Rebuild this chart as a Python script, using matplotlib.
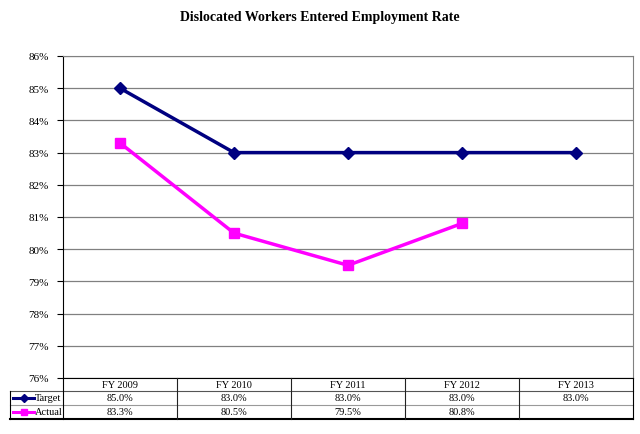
import matplotlib
matplotlib.use("Agg")
import matplotlib.pyplot as plt
from matplotlib.lines import Line2D

categories = ["FY 2009", "FY 2010", "FY 2011", "FY 2012", "FY 2013"]
target = [85.0, 83.0, 83.0, 83.0, 83.0]
actual = [83.3, 80.5, 79.5, 80.8, None]
yticks = [76, 77, 78, 79, 80, 81, 82, 83, 84, 85, 86]

plt.rcParams['font.family'] = ['Liberation Serif', 'DejaVu Serif']

W, H = 640, 435
fig = plt.figure(figsize=(W / 100, H / 100), dpi=100)
fig.patch.set_facecolor('white')

L, R, T, B = 63, 633, 57, 379
ax = fig.add_axes([L / W, 1 - B / H, (R - L) / W, (B - T) / H])

x = list(range(len(categories)))
ax.plot(x, target, color='#000080', lw=2.5, marker='D', ms=6, zorder=3)
ax_x = [i for i, v in enumerate(actual) if v is not None]
ax_y = [v for v in actual if v is not None]
ax.plot(ax_x, ax_y, color='#FF00FF', lw=2.5, marker='s', ms=7, zorder=3)

ax.set_xlim(-0.5, len(categories) - 0.5)
ax.set_ylim(76, 86)
ax.set_yticks(yticks)
ax.set_yticklabels([f"{v}%" for v in yticks], fontsize=8)
ax.set_xticks([])
ax.grid(axis='y', color='#808080', lw=0.9)
ax.set_axisbelow(True)
for s in ['top', 'right']:
    ax.spines[s].set_color('#808080')
ax.spines['left'].set_color('black')
ax.spines['bottom'].set_color('black')
ax.tick_params(axis='y', length=4, width=0.8, pad=6)

fig.text(0.5, 1 - 17 / H, "Dislocated Workers Entered Employment Rate",
         ha='center', va='center', fontsize=10, fontweight='bold')

def P(px, py):
    return (px / W, 1 - py / H)

def hline(x0, x1, y, lw=0.8, c='black'):
    fig.add_artist(Line2D([x0 / W, x1 / W], [1 - y / H, 1 - y / H], color=c, lw=lw, transform=fig.transFigure))

def vline(xx, y0, y1, lw=0.8, c='black'):
    fig.add_artist(Line2D([xx / W, xx / W], [1 - y0 / H, 1 - y1 / H], color=c, lw=lw, transform=fig.transFigure))

r_top, r1, r2, r_bot = 379, 392, 406, 420
tL = 10
cw = (R - L) / len(categories)
hline(tL, R, r1, lw=0.8, c='#555555')
hline(tL, R, r2, lw=0.8, c='#999999')
hline(tL, R, r_bot, lw=1.5)
vline(tL, r1, r_bot, lw=0.8)
for i in range(len(categories) + 1):
    vline(L + i * cw, r_top, r_bot, lw=0.8, c='#222222' if 0 < i < len(categories) else 'black')

for i, c in enumerate(categories):
    cx = L + (i + 0.5) * cw
    fig.text(*P(cx, (r_top + r1) / 2), c, ha='center', va='center', fontsize=7.5)
    fig.text(*P(cx, (r1 + r2) / 2), f"{target[i]:.1f}%", ha='center', va='center', fontsize=7.5)
    if actual[i] is not None:
        fig.text(*P(cx, (r2 + r_bot) / 2), f"{actual[i]:.1f}%", ha='center', va='center', fontsize=7.5)

for (yc, col, mk, ms, lab) in [((r1 + r2) / 2, '#000080', 'D', 4, 'Target'),
                               ((r2 + r_bot) / 2, '#FF00FF', 's', 5, 'Actual')]:
    fig.add_artist(Line2D([13 / W, 34 / W], [1 - yc / H] * 2, color=col, lw=2.2,
                          transform=fig.transFigure))
    fig.add_artist(Line2D([23.5 / W], [1 - yc / H], color=col, marker=mk, ms=ms,
                          transform=fig.transFigure))
    fig.text(*P(35, yc), lab, ha='left', va='center', fontsize=7.5)

fig.savefig("out.png", dpi=100, facecolor='white')
